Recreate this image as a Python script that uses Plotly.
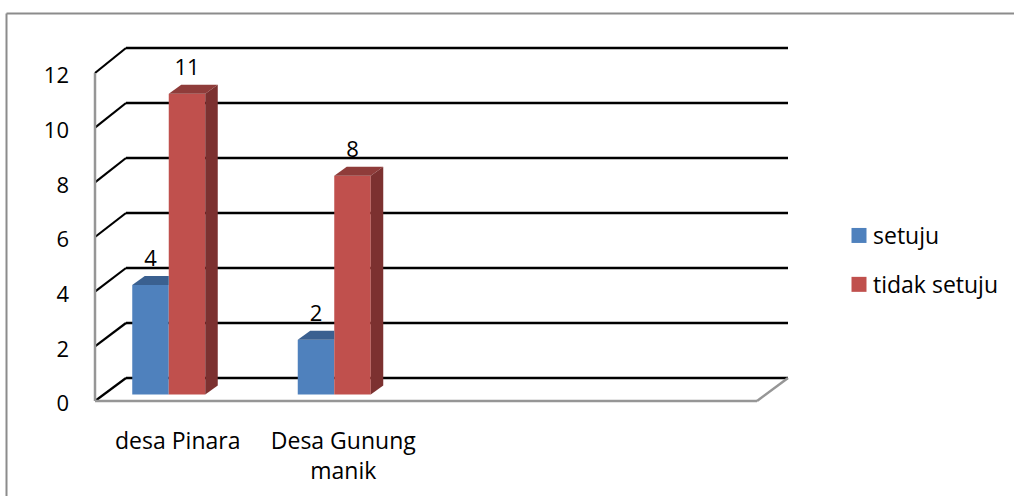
import plotly.graph_objects as go

# values
categories = ['desa Pinara', 'Desa Gunung<br>manik']
setuju = [4, 2]
tidak_setuju = [11, 8]
y_ticks = [0, 2, 4, 6, 8, 10, 12]

WIDTH, HEIGHT = 1014, 496
# front plane of the 3d box, in pixels
LEFT, RIGHT, BOTTOM, TOP = 95, 757, 401, 73
BACK_DX, BACK_DY = 31, 23
PAD = 4  # room round the box so the wall lines are not clipped

CAT_PX = (RIGHT - LEFT) / 4
VAL_PX = (BOTTOM - TOP) / 12

X_MIN = -0.5
X_END = 3.5

# bar geometry in axis units
BAR_W = 36.5 / CAT_PX
BAR_SHIFT = -9 / CAT_PX
BAR_BASE = 6.6 / VAL_PX
DEPTH_X = 12.5 / CAT_PX
DEPTH_Y = 9 / VAL_PX
LABEL_RISE = 24.5 / VAL_PX

FONT = 'Open Sans'
TEXT = '#000000'
BLUE, BLUE_TOP = '#4F81BD', '#3A6090'
RED, RED_TOP, RED_SIDE = '#C0504D', '#8F3C3A', '#7C3130'
WALL = '#969696'

# plot area in pixels
PLOT_L, PLOT_R = LEFT - PAD, RIGHT + BACK_DX + PAD
PLOT_T, PLOT_B = TOP - 25 - PAD, BOTTOM + PAD


def px_x(p):
    return (p - PLOT_L) / (PLOT_R - PLOT_L)


def px_y(p):
    return (PLOT_B - p) / (PLOT_B - PLOT_T)


def back_x(v):
    return v + BACK_DX / CAT_PX


def back_y(v):
    # back wall is a touch taller than the front
    return v * 55 / 2 / VAL_PX + BACK_DY / VAL_PX


def face(xs, ys, color):
    return go.Scatter(x=xs, y=ys, mode='lines', fill='toself', fillcolor=color,
                      line=dict(width=0), showlegend=False, hoverinfo='skip')


fig = go.Figure()
x_pos = list(range(len(categories)))

fig.add_trace(go.Bar(x=x_pos, y=setuju, base=BAR_BASE, width=BAR_W, offset=BAR_SHIFT - BAR_W,
                     marker=dict(color=BLUE, line=dict(width=0)), showlegend=False, name='setuju'))
fig.add_trace(go.Bar(x=x_pos, y=tidak_setuju, base=BAR_BASE, width=BAR_W, offset=BAR_SHIFT,
                     marker=dict(color=RED, line=dict(width=0)), showlegend=False, name='tidak setuju'))

# top and side faces
for i in x_pos:
    l = i + BAR_SHIFT - BAR_W
    r = i + BAR_SHIFT
    top = setuju[i] + BAR_BASE
    fig.add_trace(face([l, l + DEPTH_X, r, r, l], [top, top + DEPTH_Y, top + DEPTH_Y, top, top], BLUE_TOP))

    l = i + BAR_SHIFT
    r = l + BAR_W
    top = tidak_setuju[i] + BAR_BASE
    fig.add_trace(face([l, l + DEPTH_X, r + DEPTH_X, r, l], [top, top + DEPTH_Y, top + DEPTH_Y, top, top], RED_TOP))
    fig.add_trace(face([r, r + DEPTH_X, r + DEPTH_X, r, r],
                       [BAR_BASE, BAR_BASE + DEPTH_Y, top + DEPTH_Y, top, BAR_BASE], RED_SIDE))

# data labels
fig.add_trace(go.Scatter(
    x=[i + BAR_SHIFT - BAR_W / 2 for i in x_pos] + [i + BAR_SHIFT + BAR_W / 2 for i in x_pos],
    y=[v + BAR_BASE + LABEL_RISE for v in setuju + tidak_setuju],
    text=[str(v) for v in setuju + tidak_setuju],
    mode='text', textposition='middle center', textfont=dict(family=FONT, size=22, color=TEXT),
    showlegend=False, hoverinfo='skip'))

# legend entries
fig.add_trace(go.Scatter(x=[None], y=[None], mode='markers', name='setuju', legendgroup='a',
                         marker=dict(symbol='square', size=15, color=BLUE)))
fig.add_trace(go.Scatter(x=[None], y=[None], mode='markers', name='tidak setuju', legendgroup='b',
                         marker=dict(symbol='square', size=15, color=RED)))

# walls of the box, under the bars
shapes = []
for v in y_ticks:
    # black back wall line and the diagonal down to the front axis
    shapes.append(dict(type='line', layer='below', x0=back_x(X_MIN), x1=back_x(X_END), y0=back_y(v), y1=back_y(v),
                       line=dict(color='#000000', width=2.4)))
    shapes.append(dict(type='line', layer='below', x0=X_MIN, x1=back_x(X_MIN), y0=v, y1=back_y(v),
                       line=dict(color='#000000', width=2.2)))
shapes.append(dict(type='line', layer='below', x0=X_MIN, x1=X_MIN, y0=0, y1=12, line=dict(color=WALL, width=2.5)))
shapes.append(dict(type='line', layer='below', x0=X_MIN, x1=X_END, y0=0, y1=0, line=dict(color=WALL, width=2.5)))
shapes.append(dict(type='line', layer='below', x0=X_END, x1=back_x(X_END), y0=0, y1=back_y(0), line=dict(color=WALL, width=2.5)))
for s in shapes:
    s['xref'] = 'x'
    s['yref'] = 'y'

# outer frame of the picture
shapes.append(dict(type='line', xref='paper', yref='paper', x0=px_x(6.5), x1=px_x(1014), y0=px_y(13.5), y1=px_y(13.5),
                   line=dict(color='#8c8c8c', width=2)))
shapes.append(dict(type='line', xref='paper', yref='paper', x0=px_x(6.5), x1=px_x(6.5), y0=px_y(13.5), y1=px_y(496),
                   line=dict(color='#8c8c8c', width=2)))

fig.update_layout(
    width=WIDTH, height=HEIGHT,
    margin=dict(l=PLOT_L, r=WIDTH - PLOT_R, t=PLOT_T, b=HEIGHT - PLOT_B, autoexpand=False),
    paper_bgcolor='white', plot_bgcolor='white',
    barmode='overlay',
    shapes=shapes,
    font=dict(family=FONT, size=22, color=TEXT),
    xaxis=dict(range=[X_MIN - PAD / CAT_PX, back_x(X_END) + PAD / CAT_PX], tickmode='array',
               tickvals=x_pos, ticktext=categories, showgrid=False, zeroline=False, showline=False,
               ticks='', ticklabelstandoff=20, tickfont=dict(family=FONT, size=23, color=TEXT)),
    yaxis=dict(range=[-PAD / VAL_PX, 12 + (25 + PAD) / VAL_PX], tickmode='array', tickvals=y_ticks,
               showgrid=False, zeroline=False, showline=False, ticks='', ticklabelstandoff=21,
               tickfont=dict(family=FONT, size=22, color=TEXT)),
    legend=dict(x=px_x(839), y=px_y(214), xanchor='left', yanchor='top',
                tracegroupgap=16, font=dict(family=FONT, size=23, color=TEXT), bgcolor='rgba(0,0,0,0)'),
)

# calibri-like gap between swatch and legend text, y tick labels sit a little low
nudge = """
document.body.style.margin = '0';
document.querySelectorAll('.legendtext').forEach(function (t) {
    t.setAttribute('x', parseFloat(t.getAttribute('x')) - 6);
});
document.querySelectorAll('.ytick text').forEach(function (t) {
    t.setAttribute('y', parseFloat(t.getAttribute('y')) + 2.5);
});
"""
fig.write_html("out.html", config={'displayModeBar': False}, post_script=nudge)
